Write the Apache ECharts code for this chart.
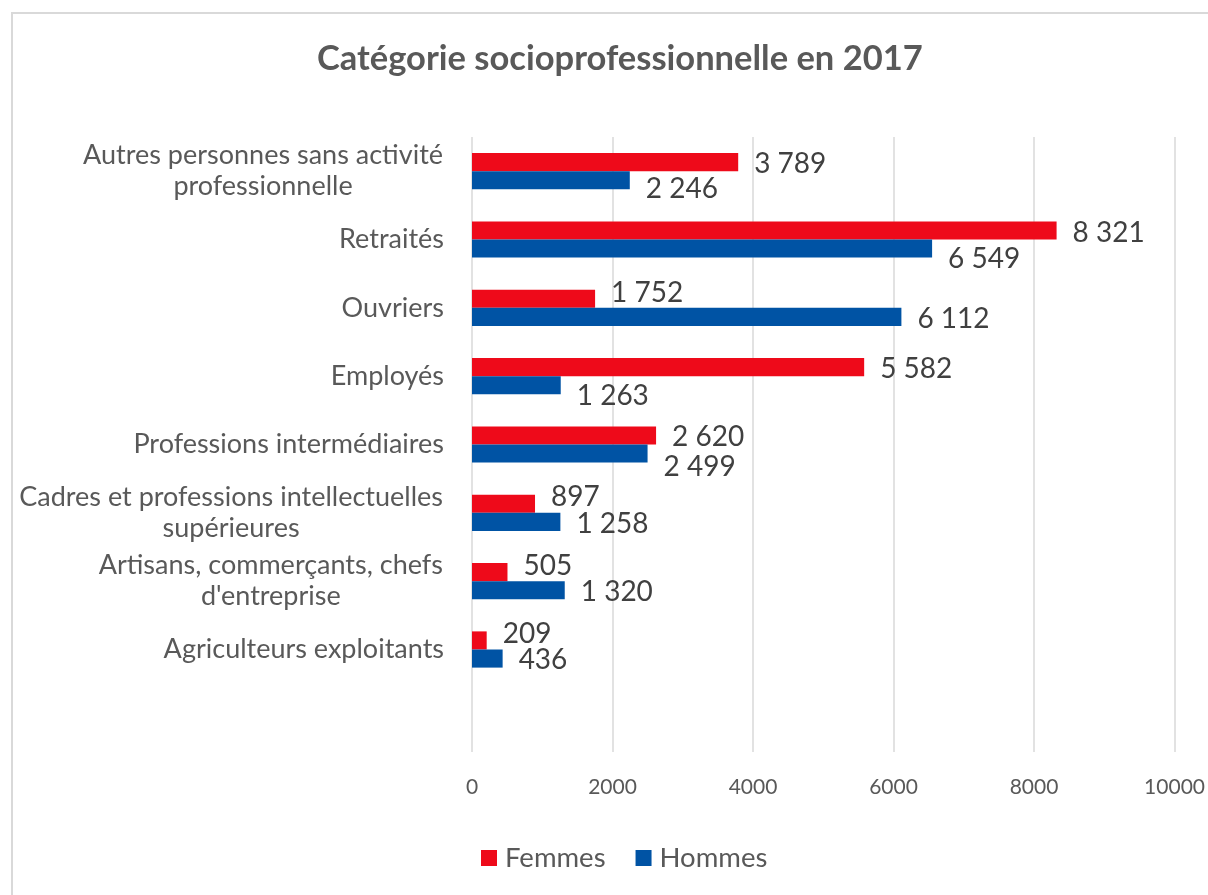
<!DOCTYPE html>
<html>
<head>
<meta charset="utf-8">
<script src="https://cdn.jsdelivr.net/npm/echarts@6/dist/echarts.min.js"></script>
<style>
  html, body { margin: 0; padding: 0; background: #ffffff; }
  #chart { width: 1208px; height: 895px; }
</style>
</head>
<body>
<div id="chart"></div>
<script>
// Categories listed bottom to top (a blank slot at the bottom leaves room below the last group)
const categories = [
  '',
  'Agriculteurs exploitants',
  "Artisans, commerçants, chefs\nd'entreprise",
  'Cadres et professions intellectuelles\nsupérieures',
  'Professions intermédiaires',
  'Employés',
  'Ouvriers',
  'Retraités',
  'Autres personnes sans activité\nprofessionnelle'
];
const femmes = [null, 209, 505, 897, 2620, 5582, 1752, 8321, 3789];
const hommes = [null, 436, 1320, 1258, 2499, 1263, 6112, 6549, 2246];
const xTicks = [0, 2000, 4000, 6000, 8000, 10000];

// Vertical nudges (px) of the value labels, per category, so neighbouring labels do not collide
const femmesLabelShift = [0, -6, -6, -6.5, 2, 2, -6, 3, 2];
const hommesLabelShift = [0, 1, 2, 2, 13, 11, 2, 10.5, 9];

const FONT = 'Lato';
const LABEL_SIZE = 27;

// Measure text so that multi-line category labels are centred line by line
const measureCtx = document.createElement('canvas').getContext('2d');
measureCtx.font = LABEL_SIZE + 'px ' + FONT;
const rich = {};
const labelText = categories.map((c, i) => {
  if (c.indexOf('\n') < 0) return c;
  const lines = c.split('\n');
  const w = Math.max(...lines.map(l => measureCtx.measureText(l).width)) + 2;
  rich['c' + i] = {
    width: w, align: 'center', fontFamily: FONT, fontSize: LABEL_SIZE,
    lineHeight: 31, color: '#595959'
  };
  return lines.map(l => '{c' + i + '|' + l + '}').join('\n');
});

const fmt = v => String(v).replace(/\B(?=(\d{3})+(?!\d))/g, ' ');

function barSeries(name, values, shifts, color) {
  return {
    name: name,
    type: 'bar',
    barGap: '0%',
    barCategoryGap: '47%',
    itemStyle: { color: color },
    data: values.map((v, i) => ({
      value: v,
      label: { offset: [0, shifts[i]] }
    })),
    label: {
      show: true, position: 'right', distance: 16,
      fontFamily: FONT, fontSize: 28, color: '#404040',
      formatter: p => p.value == null ? '' : fmt(p.value)
    }
  };
}

const chart = echarts.init(document.getElementById('chart'), null, { renderer: 'canvas' });
chart.setOption({
  backgroundColor: '#ffffff',
  animation: false,
  title: {
    text: 'Catégorie socioprofessionnelle en 2017',
    left: 312,
    top: 36,
    textStyle: { fontFamily: FONT, fontSize: 34.5, fontWeight: 'bold', color: '#595959' }
  },
  graphic: [{
    type: 'rect',
    shape: { x: 12, y: 13, width: 1220, height: 900 },
    style: { fill: 'none', stroke: '#d9d9d9', lineWidth: 2 },
    silent: true
  }],
  legend: {
    data: ['Femmes', 'Hommes'],
    bottom: 18,
    left: 476,
    icon: 'rect',
    itemWidth: 16,
    itemHeight: 16,
    itemGap: 30,
    textStyle: { fontFamily: FONT, fontSize: 27.5, color: '#595959', padding: [0, 0, 0, 3] }
  },
  grid: { left: 472, right: 33, top: 137, bottom: 143, containLabel: false },
  xAxis: {
    type: 'value',
    min: 0,
    max: 10000,
    interval: 2000,
    axisLine: { show: false },
    axisTick: { show: false },
    splitLine: { lineStyle: { color: '#d9d9d9', width: 1.5 } },
    axisLabel: {
      fontFamily: FONT, fontSize: 21, color: '#595959', margin: 25,
      formatter: v => xTicks.indexOf(v) >= 0 ? String(v) : ''
    }
  },
  yAxis: {
    type: 'category',
    data: categories,
    axisLine: { show: false },
    axisTick: { show: false },
    axisLabel: {
      fontFamily: FONT, fontSize: LABEL_SIZE, color: '#595959', margin: 28,
      lineHeight: 31,
      formatter: (v, i) => labelText[i],
      rich: rich
    }
  },
  series: [
    barSeries('Femmes', femmes, femmesLabelShift, '#ee0a1a'),
    barSeries('Hommes', hommes, hommesLabelShift, '#0053a4')
  ]
});
</script>
</body>
</html>
